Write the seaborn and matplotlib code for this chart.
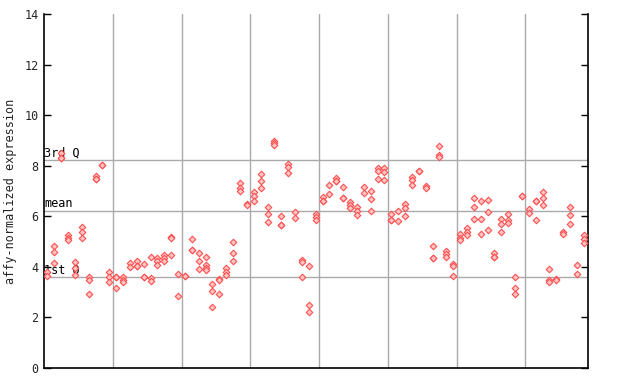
import matplotlib
matplotlib.use("Agg")
import matplotlib.pyplot as plt
import seaborn as sns
import pandas as pd

# expression values per sample (replicates), grouped in blocks of ten samples
group1 = [[3.78, 3.65], [4.82, 4.6, 4.15], [8.49, 8.29, 8.29], [5.26, 5.13, 5.06],
          [4.18, 3.97, 3.68], [5.58, 5.39, 5.15], [3.58, 3.48, 2.93], [7.59, 7.47, 7.47],
          [8.03, 8.01], [3.78, 3.61, 3.41]]
group2 = [[3.61, 3.6, 3.15], [3.61, 3.48, 3.39], [4.14, 4.0], [4.24, 4.05, 4.05],
          [4.11, 3.61, 3.6], [4.38, 3.57, 3.45], [4.34, 4.23, 4.07], [4.47, 4.36, 4.23],
          [5.19, 5.13, 4.47], [3.7, 2.83]]
group3 = [[3.64, 3.62], [5.09, 4.67, 4.66], [4.53, 4.24, 3.9], [4.4, 4.07, 3.97, 3.86],
          [3.31, 3.04, 2.42], [3.51, 3.5, 2.91], [3.94, 3.81, 3.68], [4.97, 4.53, 4.22],
          [7.3, 7.1, 7.0], [6.48, 6.46]]
group4 = [[6.97, 6.82, 6.6], [7.66, 7.38, 7.1], [6.35, 6.1, 5.76], [8.98, 8.9, 8.8],
          [6.03, 5.67, 5.66], [8.05, 7.96, 7.7], [6.15, 5.92], [4.27, 4.19, 3.58],
          [4.03, 2.49, 2.2], [6.1, 5.98, 5.85]]
group5 = [[6.78, 6.62, 6.6], [7.22, 6.87], [7.52, 7.41, 7.4], [7.14, 6.74, 6.73],
          [6.55, 6.45, 6.34], [6.37, 6.2, 6.04], [7.14, 6.93], [7.0, 6.67, 6.2],
          [7.89, 7.8, 7.46], [7.9, 7.74, 7.42]]
group6 = [[6.1, 5.85, 5.84], [6.2, 5.8], [6.48, 6.31, 6.0], [7.54, 7.43, 7.24],
          [7.8, 7.78], [7.2, 7.13], [4.81, 4.35, 4.34], [8.76, 8.42, 8.33],
          [4.63, 4.51, 4.39], [4.12, 4.02, 3.64]]
group7 = [[5.28, 5.14, 5.05], [5.52, 5.39, 5.27], [6.71, 6.38, 5.88], [6.59, 5.88, 5.28],
          [6.63, 6.16, 5.45], [4.53, 4.4, 4.39], [5.9, 5.68, 5.37], [6.09, 5.85, 5.75],
          [3.58, 3.15, 2.91], [6.82, 6.8]]
group8 = [[6.3, 6.14], [6.62, 6.6, 5.85], [6.95, 6.71, 6.43], [3.9, 3.47, 3.39],
          [3.52, 3.5], [5.37, 5.3], [6.35, 6.07, 5.68], [4.06, 3.7], [5.26, 5.1, 4.93]]

quartile_values = [3.58, 6.19, 8.22]
quartile_labels = ["1st Q", "mean", "3rd Q"]
y_ticks = [0, 2, 4, 6, 8, 10, 12, 14]

rows = []
idx = 0
for grp in [group1, group2, group3, group4, group5, group6, group7, group8]:
    for reps in grp:
        for v in reps:
            rows.append({"sample": idx, "expr": v})
        idx += 1
df = pd.DataFrame(rows)
n_samples = idx

sns.set_style("white")
plt.rcParams["font.family"] = ["DejaVu Sans Mono"]

fig = plt.figure(figsize=(6.4, 3.84), dpi=100)
ax = fig.add_axes([44 / 640, 16 / 384, 544 / 640, 354 / 384])

# group separators
for b in range(1, 8):
    ax.axvline(b * 10 - 0.5, color="#aaaaaa", lw=1, zorder=1)
for qv, ql in zip(quartile_values, quartile_labels):
    ax.axhline(qv, color="#aaaaaa", lw=1, zorder=1)
    ax.text(-0.45, qv + 0.04, ql, fontsize=8.5, color="black", ha="left", va="bottom", zorder=2)

sns.scatterplot(data=df, x="sample", y="expr", ax=ax, marker="D", s=11,
                color="#ffc4c4", edgecolor="#ff5050", linewidth=0.8, zorder=3, legend=False)

ax.set_xlim(-0.5, n_samples - 0.4)
ax.set_ylim(0, 14)
ax.set_yticks(y_ticks)
ax.set_yticklabels([str(t) for t in y_ticks], fontsize=8.5)
ax.set_xticks([])
ax.tick_params(axis="y", direction="in", length=5, width=1, pad=4, right=True, left=True, color="black")
ax.set_xlabel("")
ax.set_ylabel("affy-normalized expression", fontsize=8.5, labelpad=5)
for s in ["left", "bottom", "right"]:
    ax.spines[s].set_visible(True)
    ax.spines[s].set_color("black")
    ax.spines[s].set_linewidth(1.2)
ax.spines["top"].set_visible(False)

fig.savefig("out.png", dpi=100)
